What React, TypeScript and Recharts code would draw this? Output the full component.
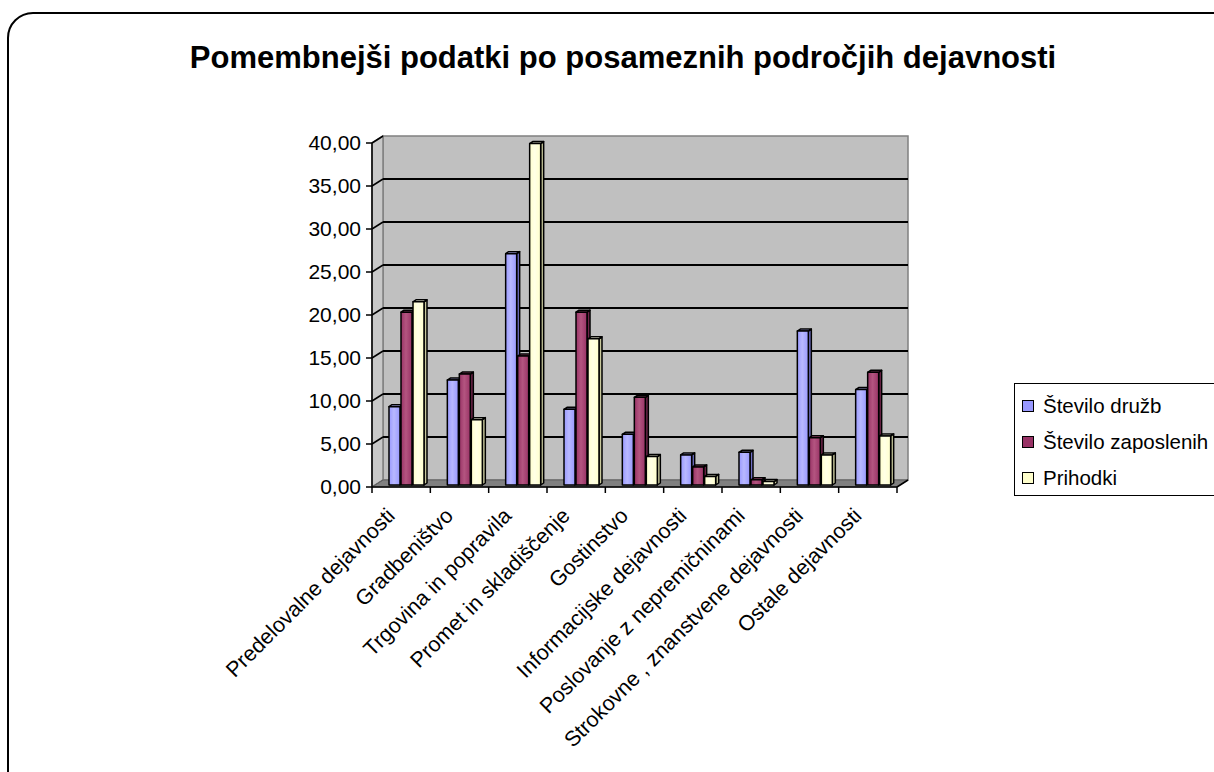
import React from "react";
import { BarChart, Bar, XAxis, YAxis, CartesianGrid } from "recharts";

const categories = [
  "Predelovalne dejavnosti",
  "Gradbeništvo",
  "Trgovina in popravila",
  "Promet in skladiščenje",
  "Gostinstvo",
  "Informacijske dejavnosti",
  "Poslovanje z nepremičninami",
  "Strokovne , znanstvene dejavnosti",
  "Ostale dejavnosti",
];
const steviloDruzb = [9.1, 12.2, 26.9, 8.8, 5.9, 3.5, 3.8, 17.9, 11.1];
const steviloZaposlenih = [20.1, 12.9, 15.0, 20.1, 10.2, 2.1, 0.6, 5.5, 13.1];
const prihodki = [21.3, 7.6, 39.7, 17.0, 3.3, 1.0, 0.4, 3.5, 5.7];
const yTicks = [0, 5, 10, 15, 20, 25, 30, 35, 40];

const series = [
  { key: "druzb", name: "Število družb", fill: "#9999ff", side: "#6f6fc4", top: "#b8b8ff" },
  { key: "zaposlenih", name: "Število zaposlenih", fill: "#993366", side: "#6e2449", top: "#b35580" },
  { key: "prihodki", name: "Prihodki", fill: "#ffffcc", side: "#c8c89c", top: "#ffffe6" },
];

const data = categories.map((name, i) => ({
  name,
  druzb: steviloDruzb[i],
  zaposlenih: steviloZaposlenih[i],
  prihodki: prihodki[i],
}));

const W = 1214;
const H = 772;
const margin = { top: 143, right: 317, bottom: 5, left: 292 };
const Y_AXIS_W = 80;
const X_AXIS_H = 280;
const plot = {
  left: margin.left + Y_AXIS_W,
  top: margin.top,
  width: W - margin.left - Y_AXIS_W - margin.right,
  height: H - margin.top - margin.bottom - X_AXIS_H,
};
// depth of the 3D box
const DX = 11;
const DY = 7;
const FONT = "'Liberation Sans', Arial, sans-serif";

const fmt = (v: number) => v.toFixed(2).replace(".", ",");

const GridLine = (props: any) => {
  const { y1, index } = props;
  const L = plot.left;
  const R = plot.left + plot.width;
  const T = plot.top;
  const B = plot.top + plot.height;
  return (
    <g key={`gl-${index}`}>
      {index === 0 && (
        <g>
          <polygon
            points={`${L + DX},${T - DY} ${R + DX},${T - DY} ${R + DX},${B - DY} ${L + DX},${B - DY}`}
            fill="#c0c0c0"
            stroke="#808080"
            strokeWidth={1.5}
          />
          <polygon
            points={`${L},${B} ${L},${T} ${L + DX},${T - DY} ${L + DX},${B - DY}`}
            fill="#c8c8c8"
            stroke="#808080"
            strokeWidth={1.5}
          />
          <polygon
            points={`${L},${B} ${L + DX},${B - DY} ${R + DX},${B - DY} ${R},${B}`}
            fill="#808080"
            stroke="#606060"
            strokeWidth={1}
          />
          <line x1={R} y1={B} x2={R + DX} y2={B - DY} stroke="#000" strokeWidth={1.5} />
        </g>
      )}
      {y1 > plot.top + 1 && y1 < B - 1 && (
        <g>
          <line x1={L} y1={y1} x2={L + DX} y2={y1 - DY} stroke="#000" strokeWidth={1.5} />
          <line x1={L + DX} y1={y1 - DY} x2={R + DX} y2={y1 - DY} stroke="#000" strokeWidth={2} />
        </g>
      )}
      {y1 >= B - 1 && (
        <line x1={L} y1={y1} x2={L + DX} y2={y1 - DY} stroke="#606060" strokeWidth={1} />
      )}
      {y1 <= plot.top + 1 && (
        <line x1={L} y1={y1} x2={L + DX} y2={y1 - DY} stroke="#000" strokeWidth={1.5} />
      )}
    </g>
  );
};

const makeBarShape = (s: (typeof series)[number]) => (props: any) => {
  const { x, y, width, height } = props;
  if (height == null || width == null) return <g />;
  const X = x + 5;
  const Y = y - 2;
  const w = width;
  const h = Math.max(height, 0);
  const d = 3;
  const e = 2;
  return (
    <g stroke="#000" strokeWidth={1.5} strokeLinejoin="round">
      <polygon points={`${X + w},${Y} ${X + w + d},${Y - e} ${X + w + d},${Y + h - e} ${X + w},${Y + h}`} fill={s.side} />
      <polygon points={`${X},${Y} ${X + d},${Y - e} ${X + w + d},${Y - e} ${X + w},${Y}`} fill={s.top} />
      <rect x={X} y={Y} width={w} height={h} fill={`url(#grad-${s.key})`} />
    </g>
  );
};

const XTick = (props: any) => {
  const { x, y, payload, index } = props;
  const half = payload?.offset ?? plot.width / categories.length / 2;
  const tx = x - 5;
  const ty = y + 30;
  return (
    <g>
      <line x1={x - half} y1={y} x2={x - half} y2={y + 6} stroke="#000" strokeWidth={1.5} />
      {index === categories.length - 1 && (
        <line x1={x + half} y1={y} x2={x + half} y2={y + 6} stroke="#000" strokeWidth={1.5} />
      )}
      <text
        x={tx}
        y={ty}
        transform={`rotate(-45 ${tx} ${ty})`}
        textAnchor="end"
        fontFamily={FONT}
        fontSize={21.5}
        fill="#000"
      >
        {payload.value}
      </text>
    </g>
  );
};

const LegendBox = () => (
  <div
    style={{
      position: "absolute",
      left: 1014,
      top: 383,
      border: "1.5px solid #000",
      background: "#fff",
      width: 250,
      height: 113,
      boxSizing: "border-box",
      paddingTop: 4,
      paddingLeft: 7,
      fontFamily: FONT,
      fontSize: 20.5,
      color: "#000",
    }}
  >
    {series.map((s) => (
      <div key={s.key} style={{ display: "flex", alignItems: "center", height: 36 }}>
        <span
          style={{
            display: "inline-block",
            width: 10,
            height: 10,
            border: "1.5px solid #000",
            background: s.fill,
            marginRight: 9,
          }}
        />
        <span style={{ whiteSpace: "nowrap" }}>{s.name}</span>
      </div>
    ))}
  </div>
);

export default function App() {
  return (
    <div
      style={{
        position: "fixed",
        left: 0,
        top: 0,
        width: W,
        height: H,
        overflow: "hidden",
        background: "#fff",
      }}
    >
      <div
        style={{
          position: "absolute",
          left: 7,
          top: 12,
          width: 1230,
          height: 790,
          border: "2.5px solid #000",
          borderRadius: 26,
        }}
      />
      <div
        style={{
          position: "absolute",
          left: 0,
          width: 1246,
          top: 40,
          textAlign: "center",
          fontFamily: FONT,
          fontWeight: "bold",
          fontSize: 31,
          color: "#000",
        }}
      >
        Pomembnejši podatki po posameznih področjih dejavnosti
      </div>
      <div style={{ position: "absolute", left: 0, top: 0 }}>
        <BarChart width={W} height={H} data={data} margin={margin} barSize={11} barGap={1}>
          <defs>
            {series.map((s) => (
              <linearGradient key={s.key} id={`grad-${s.key}`} x1="0" y1="0" x2="1" y2="0">
                <stop offset="0%" stopColor={s.fill} stopOpacity={1} />
                <stop offset="45%" stopColor={s.top} stopOpacity={1} />
                <stop offset="100%" stopColor={s.fill} stopOpacity={1} />
              </linearGradient>
            ))}
          </defs>
          <CartesianGrid vertical={false} horizontal={GridLine} stroke="#000" />
          <XAxis
            dataKey="name"
            height={X_AXIS_H}
            interval={0}
            tickSize={0}
            tickMargin={0}
            tick={<XTick />}
            axisLine={{ stroke: "#000", strokeWidth: 1.5 }}
            tickLine={false}
          />
          <YAxis
            width={Y_AXIS_W}
            domain={[0, 40]}
            ticks={yTicks}
            interval={0}
            tickFormatter={fmt}
            tickSize={6}
            tickMargin={5}
            tick={{ fontFamily: FONT, fontSize: 21, fill: "#000" }}
            axisLine={{ stroke: "#000", strokeWidth: 1.5 }}
            tickLine={{ stroke: "#000", strokeWidth: 1.5 }}
          />
          {series.map((s) => (
            <Bar
              key={s.key}
              dataKey={s.key}
              name={s.name}
              fill={s.fill}
              shape={makeBarShape(s)}
              isAnimationActive={false}
            />
          ))}
        </BarChart>
      </div>
      <LegendBox />
    </div>
  );
}
